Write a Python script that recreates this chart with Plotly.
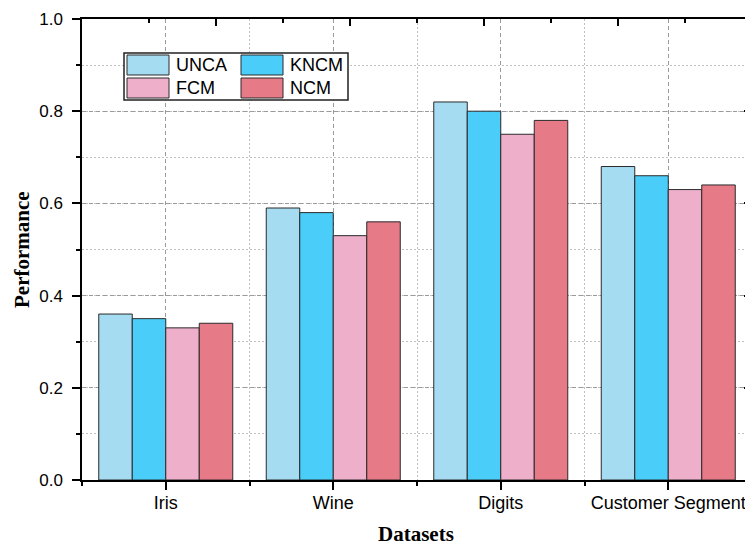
import plotly.graph_objects as go

categories = ["Iris", "Wine", "Digits", "Customer Segment"]
methods = ["UNCA", "KNCM", "FCM", "NCM"]
unca = [0.36, 0.59, 0.82, 0.68]
kncm = [0.35, 0.58, 0.80, 0.66]
fcm = [0.33, 0.53, 0.75, 0.63]
ncm = [0.34, 0.56, 0.78, 0.64]
series = [unca, kncm, fcm, ncm]
colors = ["#A6DCF2", "#4ACEF9", "#EEAFCA", "#E67A86"]
y_ticks = [0.0, 0.2, 0.4, 0.6, 0.8, 1.0]

# page is rendered with an 8px body margin
OFF = 8
W, H = 753 - OFF, 546 - OFF
PL, PR, PT, PB = 82, 752, 19, 480          # plot area in page pixels
ML, MT = PL - OFF, PT - OFF
PW, PH = PR - PL, PB - PT
MR, MB = W - ML - PW, H - MT - PH


def px(x):
    return (x - PL) / PW


def py(y):
    return (PB - y) / PH


xpos = list(range(len(categories)))
fig = go.Figure()
for name, vals, col in zip(methods, series, colors):
    fig.add_trace(go.Bar(
        x=xpos, y=vals, name=name, showlegend=False,
        marker=dict(color=col, line=dict(color="#2a2a2a", width=1)),
    ))

# invisible trace to create mirrored top/right axes
fig.add_trace(go.Scatter(x=[None], y=[None], xaxis="x2", yaxis="y2",
                         showlegend=False, hoverinfo="skip"))

tickfont = dict(family="Arial, Liberation Sans, sans-serif", size=18, color="black")
axis_common = dict(showline=True, linecolor="black", linewidth=1.5,
                   tickcolor="black", tickwidth=1.5, zeroline=False)
major_dash = "4px,3px"
minor_dash = "1.5px,2.5px"

fig.update_layout(
    width=W, height=H,
    margin=dict(l=ML, r=MR, t=MT, b=MB),
    plot_bgcolor="white", paper_bgcolor="white",
    barmode="group", bargap=0.2, bargroupgap=0,
    xaxis=dict(
        **axis_common,
        range=[-0.5, len(categories) - 0.5],
        tickvals=xpos, ticktext=categories,
        ticks="outside", ticklen=8, tickfont=tickfont,
        ticklabelstandoff=-2,
        showgrid=True, gridcolor="#9a9a9a", griddash=major_dash, gridwidth=1,
        minor=dict(tickvals=[i - 0.5 for i in range(len(categories) + 1)],
                   ticks="outside", ticklen=4, tickcolor="black", tickwidth=1.5,
                   showgrid=True, gridcolor="#c0c0c0", griddash=minor_dash, gridwidth=1),
    ),
    yaxis=dict(
        **axis_common,
        range=[0, 1], tickvals=y_ticks, tickformat=".1f",
        ticks="outside", ticklen=8, tickfont=dict(tickfont, size=17),
        ticklabelstandoff=6,
        showgrid=True, gridcolor="#9a9a9a", griddash=major_dash, gridwidth=1,
        minor=dict(dtick=0.1, ticks="outside", ticklen=4, tickcolor="black", tickwidth=1.5,
                   showgrid=True, gridcolor="#c0c0c0", griddash=minor_dash, gridwidth=1),
    ),
    xaxis2=dict(
        **axis_common, overlaying="x", side="top", range=[0, 5],
        tickvals=[1, 2, 3, 4], showticklabels=False, ticks="inside", ticklen=7,
        showgrid=False,
        minor=dict(tickvals=[0.5, 1.5, 2.5, 3.5, 4.5], ticks="inside", ticklen=4,
                   tickcolor="black", tickwidth=1.5, showgrid=False),
    ),
    yaxis2=dict(
        **axis_common, overlaying="y", side="right", range=[0, 1],
        tickvals=y_ticks, showticklabels=False, ticks="inside", ticklen=8,
        showgrid=False,
        minor=dict(dtick=0.1, ticks="inside", ticklen=4, tickcolor="black",
                   tickwidth=1.5, showgrid=False),
    ),
)

# axis titles
title_font = dict(family="Liberation Serif, Times New Roman, serif", size=21, color="black")
fig.add_annotation(text="<b>Performance</b>", xref="paper", yref="paper",
                   x=px(22), y=py(250), textangle=-90, showarrow=False,
                   xanchor="center", yanchor="middle", font=title_font)
fig.add_annotation(text="<b>Datasets</b>", xref="paper", yref="paper",
                   x=px(416), y=py(534), showarrow=False,
                   xanchor="center", yanchor="middle", font=title_font)

# legend drawn as a box with swatches
fig.add_shape(type="rect", xref="paper", yref="paper",
              x0=px(124), x1=px(348), y0=py(100), y1=py(53),
              line=dict(color="#222", width=1.5), fillcolor="white", layer="above")
cols_x = [127, 241]
rows_y = [55, 78]
legend_font = dict(family="Arial, Liberation Sans, sans-serif", size=18, color="black")
for i, (name, col) in enumerate(zip(methods, colors)):
    r, c = divmod(i, 2)
    x0 = cols_x[c]
    y0 = rows_y[r]
    fig.add_shape(type="rect", xref="paper", yref="paper",
                  x0=px(x0), x1=px(x0 + 42), y0=py(y0 + 20), y1=py(y0),
                  line=dict(color="#2a2a2a", width=1), fillcolor=col, layer="above")
    fig.add_annotation(text=name, xref="paper", yref="paper",
                       x=px(x0 + 47), y=py(y0 + 10), showarrow=False,
                       xanchor="left", yanchor="middle", font=legend_font)

fig.write_html("out.html")
